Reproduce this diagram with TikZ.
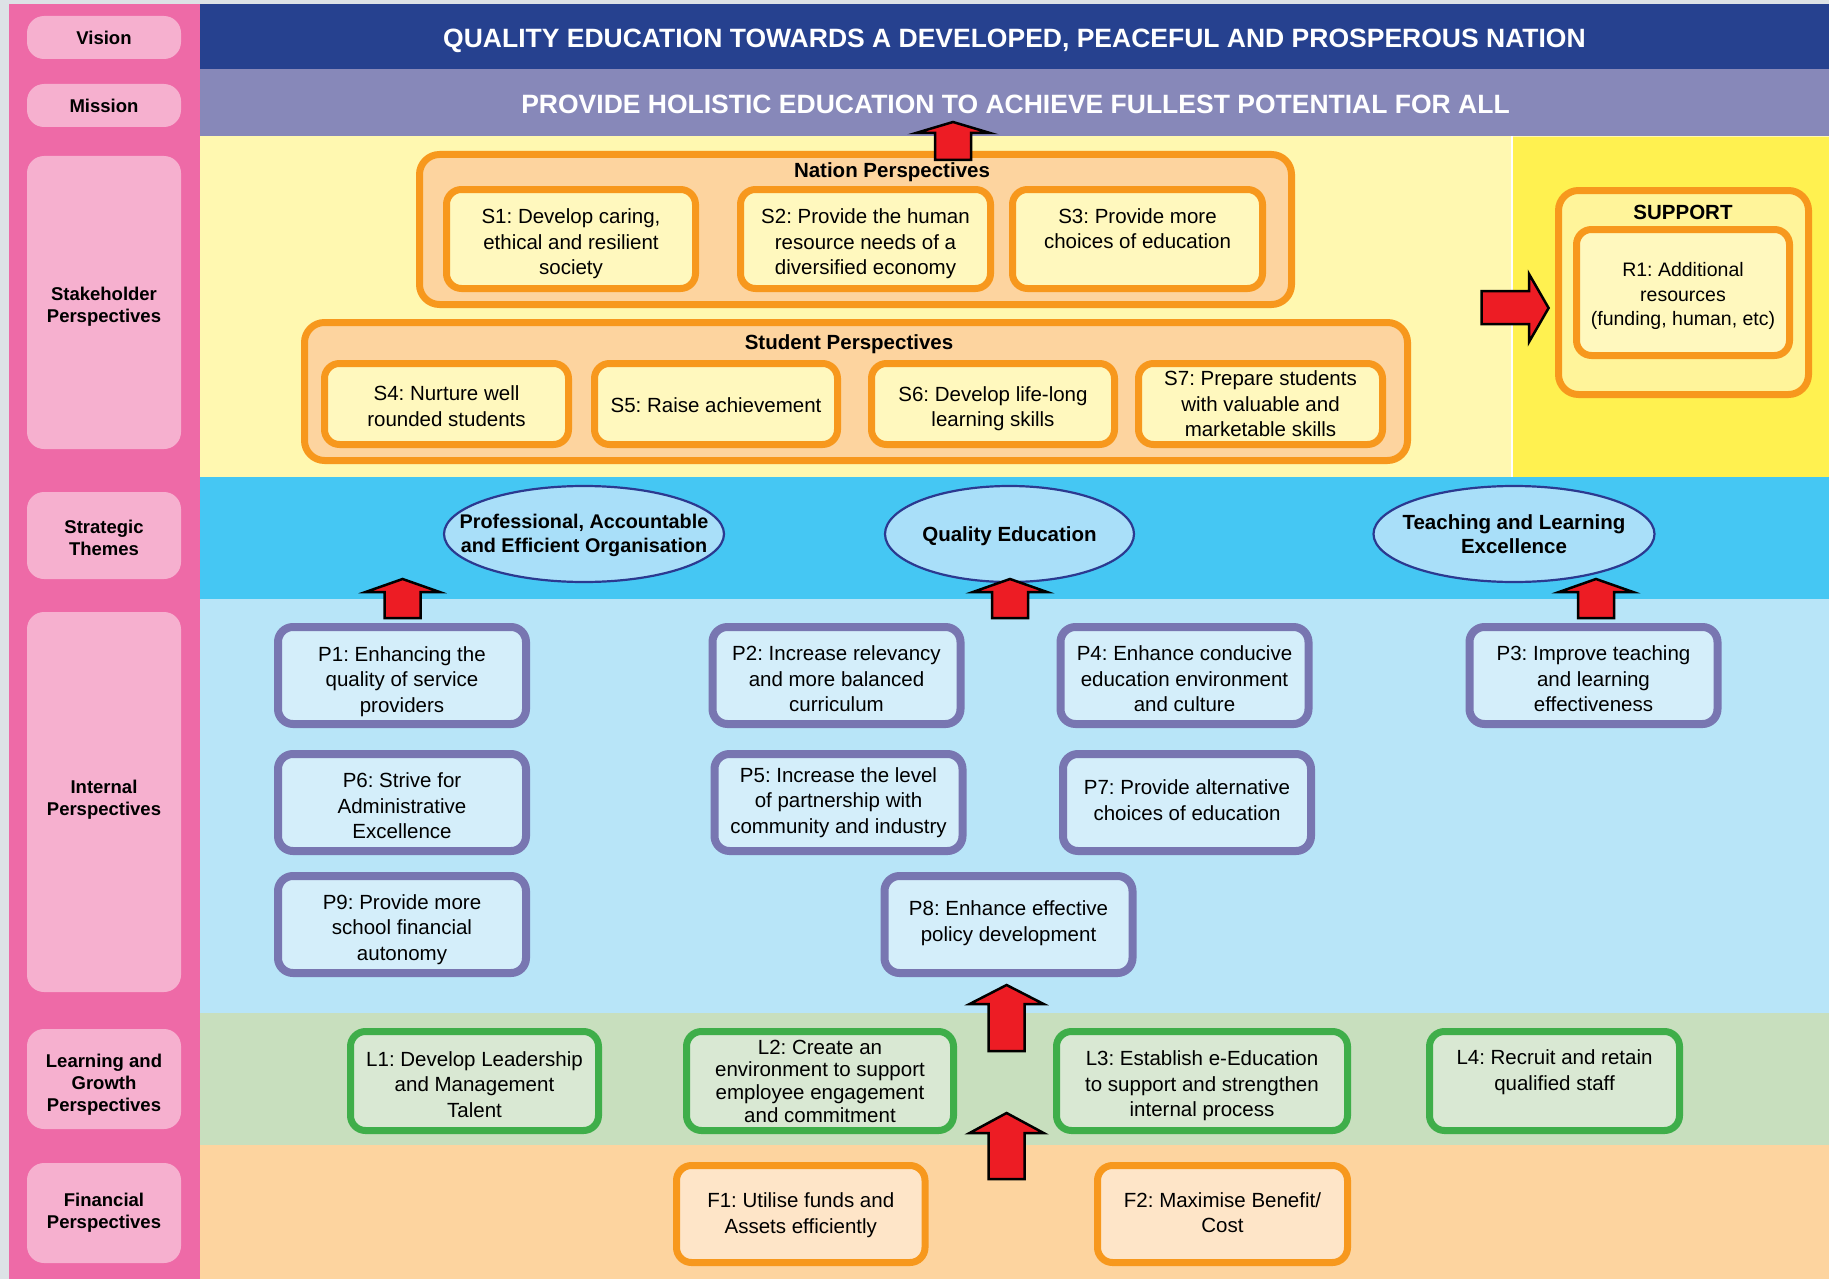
\documentclass[tikz,border=0pt]{standalone}
\usepackage{fontspec}
\setmainfont{Liberation Sans}
\frenchspacing
\usetikzlibrary{shapes.geometric}
\definecolor{bggray}{HTML}{DDE2E6}
\definecolor{pinkcol}{HTML}{EE6AA7}
\definecolor{pinkpill}{HTML}{F6B0CF}
\definecolor{visionblue}{HTML}{26418F}
\definecolor{missionblue}{HTML}{8788B9}
\definecolor{ylight}{HTML}{FFF8B0}
\definecolor{ybright}{HTML}{FFF150}
\definecolor{themeblue}{HTML}{45C7F3}
\definecolor{intblue}{HTML}{B8E5F8}
\definecolor{greenband}{HTML}{C8DFBE}
\definecolor{orangeband}{HTML}{FDD49F}
\definecolor{orangeB}{HTML}{F7981D}
\definecolor{sfill}{HTML}{FFF8BE}
\definecolor{supfill}{HTML}{FFF49A}
\definecolor{purpleB}{HTML}{7876B1}
\definecolor{pfill}{HTML}{D4EEFA}
\definecolor{ellfill}{HTML}{A9DFF9}
\definecolor{ellB}{HTML}{2B3990}
\definecolor{greenB}{HTML}{3FAE4A}
\definecolor{lfill}{HTML}{D9E8D3}
\definecolor{ffill}{HTML}{FEE5C8}
\definecolor{arrred}{HTML}{ED1C24}
% block arrow pointing up: tip x, tip y, head height, total length
\newcommand\upblk[4]{%
\draw[blk] ({#1},{#2}) -- ({#1+37},{#2+#3}) -- ({#1+18},{#2+#3}) -- ({#1+18},{#2+#4}) -- ({#1-18},{#2+#4}) -- ({#1-18},{#2+#3}) -- ({#1-37},{#2+#3}) -- cycle;}
% box with text: style, name, x, y, width, height, text dy, text
\newcommand\tbox[8]{%
\node[#1, minimum width=#5pt, minimum height=#6pt] (#2) at (#3,#4) {};
\node[txt] (#2t) at ({#3},{#4+#7}) {#8};}
% pill: name, top, bottom, text dy, text
\newcommand\pillbox[5]{%
\fill[pinkpill, rounded corners=17pt] (27,#2) rectangle (181,#3);
\node[pilltxt] (#1) at (104,{(#2+#3)/2+#4}) {#5};}
\begin{document}
\begin{tikzpicture}[x=1pt,y=-1pt,
  txt/.style={font=\fontsize{20.5}{25.5}\selectfont, align=center, inner sep=0pt},
  pilltxt/.style={inner sep=0pt, align=center, font=\fontsize{18.5}{22}\selectfont\bfseries},
  sbox/.style={draw=orangeB, line width=7pt, fill=sfill, rounded corners=15pt, inner sep=0pt},
  grpbox/.style={draw=orangeB, line width=7pt, fill=orangeband, rounded corners=20pt, inner sep=0pt},
  pbox/.style={draw=purpleB, line width=8pt, fill=pfill, rounded corners=15pt, inner sep=0pt},
  lbox/.style={draw=greenB, line width=7pt, fill=lfill, rounded corners=15pt, inner sep=0pt},
  fbox/.style={draw=orangeB, line width=7pt, fill=ffill, rounded corners=15pt, inner sep=0pt},
  theme/.style={ellipse, draw=ellB, line width=2.2pt, fill=ellfill, inner sep=0pt},
  themetxt/.style={inner sep=0pt, align=center, font=\fontsize{20.5}{24.5}\selectfont\bfseries},
  hdr/.style={inner sep=0pt, font=\fontsize{20.5}{24}\selectfont\bfseries},
  band/.style={inner sep=0pt, text=white, font=\fontsize{26.5}{30}\selectfont\bfseries},
  blk/.style={draw=black, line width=2.5pt, fill=arrred, miter limit=10}
]
\useasboundingbox (0,0) rectangle (1829,1279);
% background
\fill[bggray] (0,0) rectangle (1829,1279);
\fill[pinkcol] (9,4) rectangle (200,1279);
\fill[visionblue] (200,4) rectangle (1829,69);
\fill[missionblue] (200,69) rectangle (1829,136);
\fill[ylight] (200,136) rectangle (1829,477);
\fill[ybright] (1513,137) rectangle (1829,477);
\draw[white, line width=2pt] (1512,136) -- (1512,477);
\fill[themeblue] (200,477) rectangle (1829,599);
\fill[intblue] (200,599) rectangle (1829,1013);
\fill[greenband] (200,1013) rectangle (1829,1145);
\fill[orangeband] (200,1145) rectangle (1829,1279);

% left pills
\pillbox{pv}{16}{59}{0}{Vision}
\pillbox{pm}{84}{127}{0}{Mission}
\pillbox{ps}{156}{449}{4.7}{Stakeholder\\Perspectives}
\pillbox{pt}{492}{579}{2.3}{Strategic\\Themes}
\pillbox{pi}{612}{992}{-2.3}{Internal\\Perspectives}
\pillbox{pl}{1029}{1129}{5.8}{Learning and\\Growth\\Perspectives}
\pillbox{pf}{1163}{1263}{0}{Financial\\Perspectives}

% bands text
\node[band] (vision) at (1014.5,40.5) {QUALITY EDUCATION TOWARDS A DEVELOPED, PEACEFUL AND PROSPEROUS NATION};
\node[band] (mission) at (1015.5,104) {PROVIDE HOLISTIC EDUCATION TO ACHIEVE FULLEST POTENTIAL FOR ALL};

% nation perspectives
\node[grpbox, minimum width=872pt, minimum height=150pt] (nation) at (855.5,229.5) {};
\node[hdr] (nationlbl) at (892,172.2) {Nation Perspectives};
\tbox{sbox}{s1}{571}{239}{249}{99}{4.7}{S1: Develop caring,\\ethical and resilient\\society}
\tbox{sbox}{s2}{865.5}{239}{250}{99}{4.7}{S2: Provide the human\\resource needs of a\\diversified economy}
\tbox{sbox}{s3}{1137.5}{239}{250}{99}{-10.5}{S3: Provide more\\choices of education}

% student perspectives
\node[grpbox, minimum width=1103pt, minimum height=138pt] (student) at (856,391.5) {};
\node[hdr] (studentlbl) at (849,344.2) {Student Perspectives};
\tbox{sbox}{s4}{446.5}{404}{244}{81}{2.3}{S4: Nurture well\\rounded students}
\tbox{sbox}{s5}{716}{404}{243}{81}{1.2}{S5: Raise achievement}
\tbox{sbox}{s6}{993}{404}{243}{81}{4.7}{S6: Develop life-long\\learning skills}
\tbox{sbox}{s7}{1260.5}{404}{244}{81}{0}{S7: Prepare students\\with valuable and\\marketable skills}

% support
\node[grpbox, fill=supfill, minimum width=250pt, minimum height=204pt] (support) at (1683.5,292.5) {};
\node[hdr] (supportlbl) at (1683,212) {SUPPORT};
\node[sbox, minimum width=213pt, minimum height=126pt] (r1) at (1683,292.5) {};
\node[txt, font=\fontsize{19.5}{24.5}\selectfont] (r1t) at (1683,296) {R1: Additional\\resources\\(funding, human, etc)};

% strategic themes
\node[theme, minimum width=280pt, minimum height=96pt] (t1) at (584,534) {};
\node[themetxt, font=\fontsize{19.8}{24.5}\selectfont\bfseries] (t1t) at (584,535.5) {Professional, Accountable\\and Efficient Organisation};
\node[theme, minimum width=249pt, minimum height=96pt] (t2) at (1009.5,534) {};
\node[themetxt] (t2t) at (1009.5,536.3) {Quality Education};
\node[theme, minimum width=281pt, minimum height=96pt] (t3) at (1514,534) {};
\node[themetxt] (t3t) at (1514,534) {Teaching and Learning\\Excellence};

% internal perspectives
\tbox{pbox}{p1}{402}{675.5}{248}{97}{5.8}{P1: Enhancing the\\quality of service\\providers}
\tbox{pbox}{p6}{402}{802.5}{248}{97}{3.5}{P6: Strive for\\Administrative\\Excellence}
\tbox{pbox}{p9}{402}{924.5}{248}{97}{4.7}{P9: Provide more\\school financial\\autonomy}
\tbox{pbox}{p2}{836.5}{675.5}{248}{97}{3.5}{P2: Increase relevancy\\and more balanced\\curriculum}
\tbox{pbox}{p5}{838.5}{802.5}{248}{97}{0}{P5: Increase the level\\of partnership with\\community and industry}
\tbox{pbox}{p4}{1184.5}{675.5}{248}{97}{3.5}{P4: Enhance conducive\\education environment\\and culture}
\tbox{pbox}{p7}{1187}{802.5}{248}{97}{-2.3}{P7: Provide alternative\\choices of education}
\tbox{pbox}{p8}{1008.5}{924.5}{248}{97}{-1.2}{P8: Enhance effective\\policy development}
\tbox{pbox}{p3}{1593.5}{675.5}{248}{97}{3.5}{P3: Improve teaching\\and learning\\effectiveness}

% learning and growth
\tbox{lbox}{l1}{474.5}{1081}{248}{99}{3.5}{L1: Develop Leadership\\and Management\\Talent}
\node[lbox, minimum width=267pt, minimum height=99pt] (l2) at (820,1081) {};
\node[txt, font=\fontsize{20.5}{22.7}\selectfont] (l2t) at (820,1081) {L2: Create an\\environment to support\\employee engagement\\and commitment};
\tbox{lbox}{l3}{1202}{1081}{291}{99}{4.7}{L3: Establish e-Education\\to support and strengthen\\internal process}
\tbox{lbox}{l4}{1554.5}{1081}{250}{99}{-8.8}{L4: Recruit and retain\\qualified staff}

% financial
\tbox{fbox}{f1}{800.75}{1214}{248.5}{97}{1.2}{F1: Utilise funds and\\Assets efficiently}
\tbox{fbox}{f2}{1222.5}{1214}{250}{97}{-1.2}{F2: Maximise Benefit/\\Cost}

% block arrows
\upblk{953}{122}{11}{38}
\upblk{402.6}{579}{13}{39}
\upblk{1010}{579}{13}{39}
\upblk{1596}{579}{13}{39}
\upblk{1006.6}{985}{19}{66}
\upblk{1006.6}{1113}{20}{66}
\draw[blk] (1548.6,308) -- (1529,274) -- (1529,291) -- (1481.5,291) -- (1481.5,324) -- (1529,324) -- (1529,342) -- cycle;
\end{tikzpicture}
\end{document}
